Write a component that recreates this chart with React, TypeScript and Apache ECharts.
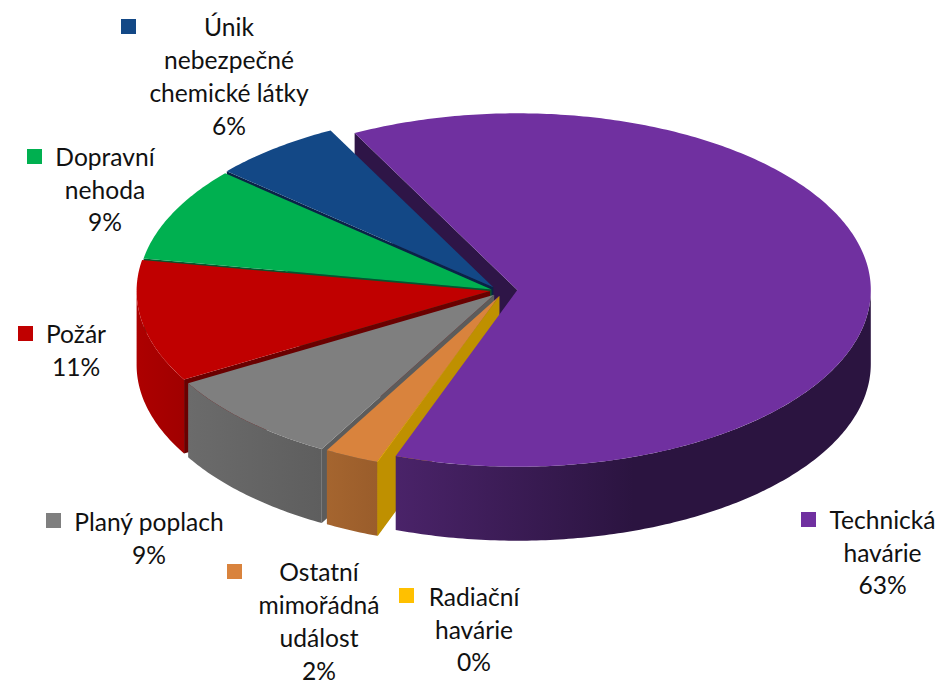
import React, { useEffect, useRef } from "react";
import * as echarts from "echarts";

// Data (clockwise from the start of the largest slice)
const CATEGORIES = [
  "Technická\nhavárie",
  "Radiační\nhavárie",
  "Ostatní\nmimořádná\nudálost",
  "Planý poplach",
  "Požár",
  "Dopravní\nnehoda",
  "Únik\nnebezpečné\nchemické látky",
];
const VALUES = [63.2, 0.03, 2.49, 8.55, 11.15, 8.6, 5.98];

// Colours
const TOP_COLORS = ["#7030A0", "#FFC000", "#D9833D", "#7F7F7F", "#C00000", "#00B050", "#134886"];
const CUT_COLORS = ["#2E1547", "#BF9000", "#9E602D", "#5C5C5C", "#6A0000", "#06552C", "#0A2347"];
const WALL_LEFT = ["#4A2369", "#BF9000", "#A5652F", "#6B6B6B", "#AD0000", "#007A38", "#0E3360"];
const WALL_RIGHT = ["#2B1440", "#BF9000", "#9A5D2B", "#5E5E5E", "#A00000", "#007A38", "#0E3360"];

// Layout
const CX = 497;
const CY = 292;
const RX = 353.5;
const RY = 176.7;
const DEPTH = 74;
const START_ANGLE = -27.4;
const EXPLODE = [[20.3, -2], [2.3, 4], [2.3, 4], [-2.8, 2.8], [-6.9, -1], [-5.4, -2.6], [-3.7, -4.7]];
const KEY_POS = [[801, 512], [399, 588], [227, 564], [46, 513], [18, 326], [27, 149], [121, 19]];
const LABEL_POS = [[882.5, 552], [474, 629], [319, 621], [149, 538], [76, 350], [105, 189], [229, 76]];
const KEY_SIZE = 15;
const FONT = '24.6px Lato, Carlito, "Noto Sans", sans-serif';
const LINE_HEIGHT = 32.7;

const TOTAL = VALUES.reduce((a, b) => a + b, 0);
const rad = (d: number) => (d * Math.PI) / 180;

function rimPoints(ox: number, oy: number, a: number, b: number, dz: number) {
  const pts: number[][] = [];
  const n = Math.max(1, Math.ceil(Math.abs(b - a) / 0.75));
  for (let k = 0; k <= n; k++) {
    const t = rad(a + ((b - a) * k) / n);
    pts.push([ox + RX * Math.sin(t), oy - RY * Math.cos(t) + dz]);
  }
  return pts;
}

function renderItem(params: any, api: any) {
  const i = params.dataIndex;
  const value = api.value(0);
  let before = 0;
  for (let k = 0; k < i; k++) before += VALUES[k];
  const a = START_ANGLE + (before / TOTAL) * 360;
  const b = a + (value / TOTAL) * 360;
  const ox = CX + EXPLODE[i][0];
  const oy = CY + EXPLODE[i][1];
  const base = i === 0 ? 70 : (7 - i) * 10;
  const children: any[] = [];

  // radial cut wall at the slice's start, visible when it faces the viewer
  const sa = Math.sin(rad(a));
  if (sa < 0) {
    const r = rimPoints(ox, oy, a, a, 0)[0];
    children.push({
      type: "polygon",
      z2: i === 0 ? 1 : base,
      shape: { points: [[ox, oy], r, [r[0], r[1] + DEPTH], [ox, oy + DEPTH]] },
      style: { fill: CUT_COLORS[i] },
    });
  }

  // outer wall, only for the front half of the rim
  const norm = (d: number) => ((d % 360) + 360) % 360;
  let wa = norm(a);
  let wb = wa + (b - a);
  if (wa > 270) {
    wa -= 360;
    wb -= 360;
  }
  const fa = Math.max(wa, 90);
  const fb = Math.min(wb, 270);
  if (fb > fa) {
    const topEdge = rimPoints(ox, oy, fa, fb, 0);
    const bottomEdge = rimPoints(ox, oy, fb, fa, DEPTH);
    children.push({
      type: "polygon",
      z2: base + 1,
      shape: { points: topEdge.concat(bottomEdge) },
      style: {
        fill: new echarts.graphic.LinearGradient(0, 0, 1, 0, [
          { offset: 0, color: WALL_LEFT[i] },
          { offset: i === 0 ? 0.5 : 1, color: WALL_RIGHT[i] },
          { offset: 1, color: WALL_RIGHT[i] },
        ]),
      },
    });
  }

  // top face
  children.push({
    type: "polygon",
    z2: base + 2,
    shape: { points: [[ox, oy] as number[]].concat(rimPoints(ox, oy, a, b, 0)) },
    style: { fill: TOP_COLORS[i] },
  });

  // legend key and label
  children.push({
    type: "rect",
    z2: 100,
    shape: { x: KEY_POS[i][0], y: KEY_POS[i][1], width: KEY_SIZE, height: KEY_SIZE },
    style: { fill: TOP_COLORS[i] },
  });
  children.push({
    type: "text",
    z2: 101,
    x: LABEL_POS[i][0],
    y: LABEL_POS[i][1],
    style: {
      text: `${CATEGORIES[i]}\n${Math.round((value / TOTAL) * 100)}%`,
      font: FONT,
      fill: "#111111",
      align: "center",
      verticalAlign: "middle",
      lineHeight: LINE_HEIGHT,
    },
  });
  return { type: "group", children };
}

export default function App() {
  const ref = useRef<HTMLDivElement>(null);
  useEffect(() => {
    document.body.style.margin = "0";
    const chart = echarts.init(ref.current!, undefined, { renderer: "svg" });
    chart.setOption({
      animation: false,
      backgroundColor: "#ffffff",
      series: [
        {
          type: "custom",
          coordinateSystem: "none",
          silent: true,
          renderItem,
          data: VALUES.map((v, i) => ({ name: CATEGORIES[i], value: [v] })),
        },
      ],
    });
    return () => chart.dispose();
  }, []);
  return <div ref={ref} style={{ width: 941, height: 680 }} />;
}
